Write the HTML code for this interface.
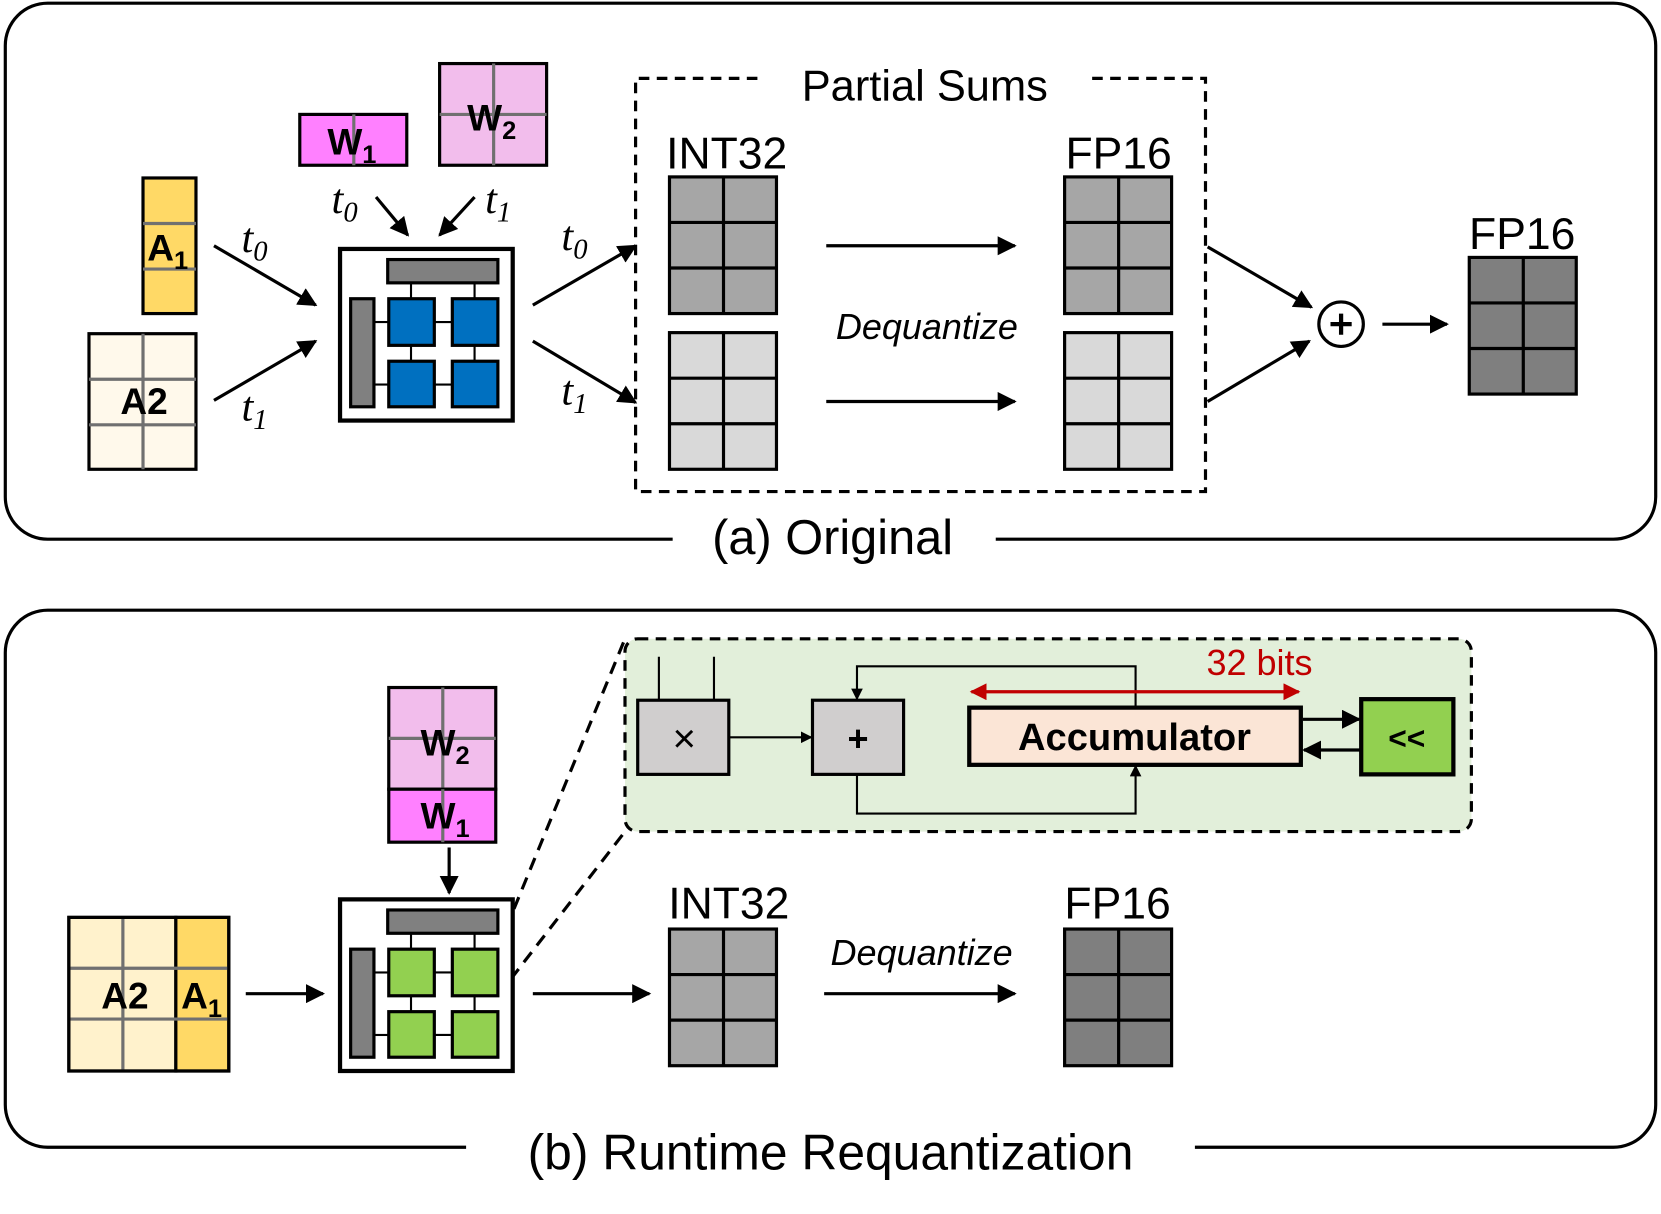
<!DOCTYPE html>
<html><head><meta charset="utf-8"><style>
html,body{margin:0;padding:0;background:#fff;}
svg{display:block;}
text{font-family:"Liberation Sans",sans-serif;}
.t{font-family:"Liberation Serif",serif;font-style:italic;font-size:40px;}
</style></head><body>
<svg width="1661" height="1214" viewBox="0 0 1568 1146" preserveAspectRatio="none" xmlns="http://www.w3.org/2000/svg">
<defs>
<marker id="a" viewBox="0 0 10 10" refX="9" refY="5" markerWidth="18" markerHeight="18" markerUnits="userSpaceOnUse" orient="auto"><path d="M0,0 L10,5 L0,10 z" fill="#000"/></marker>
<marker id="as" viewBox="0 0 10 10" refX="9" refY="5" markerWidth="11" markerHeight="11" markerUnits="userSpaceOnUse" orient="auto"><path d="M0,0 L10,5 L0,10 z" fill="#000"/></marker>
<marker id="ar" viewBox="0 0 10 10" refX="9" refY="5" markerWidth="16" markerHeight="16" markerUnits="userSpaceOnUse" orient="auto-start-reverse"><path d="M0,0 L10,5 L0,10 z" fill="#C00000"/></marker>
</defs>

<!-- frames -->
<path d="M635,509 H45 A40,40 0 0 1 5,469 V43 A40,40 0 0 1 45,3 H1523 A40,40 0 0 1 1563,43 V469 A40,40 0 0 1 1523,509 H940" fill="none" stroke="#000" stroke-width="3"/>
<text x="786" y="523" font-size="46" text-anchor="middle">(a) Original</text>
<path d="M440,1083 H45 A40,40 0 0 1 5,1043 V616 A40,40 0 0 1 45,576 H1523 A40,40 0 0 1 1563,616 V1043 A40,40 0 0 1 1523,1083 H1128" fill="none" stroke="#000" stroke-width="3"/>
<text x="784" y="1104" font-size="47" text-anchor="middle">(b) Runtime Requantization</text>

<!-- ===== TOP ===== -->
<rect x="135" y="168" width="50" height="128" fill="#FFD966" stroke="#000" stroke-width="3"/>
<line x1="135" y1="211" x2="185" y2="211" stroke="#707070" stroke-width="3"/>
<line x1="135" y1="254" x2="185" y2="254" stroke="#707070" stroke-width="3"/>
<text x="139" y="246" font-size="35" font-weight="bold">A<tspan font-size="24" dy="8">1</tspan></text>
<rect x="84" y="315" width="101" height="128" fill="#FFF9EB" stroke="#000" stroke-width="3"/>
<line x1="84" y1="358" x2="185" y2="358" stroke="#707070" stroke-width="3"/>
<line x1="84" y1="401" x2="185" y2="401" stroke="#707070" stroke-width="3"/>
<line x1="135" y1="315" x2="135" y2="443" stroke="#707070" stroke-width="3"/>
<text x="136" y="391" font-size="35" font-weight="bold" text-anchor="middle">A2</text>
<rect x="283" y="108" width="101" height="48" fill="#FF80FF" stroke="#000" stroke-width="3"/>
<line x1="334" y1="108" x2="334" y2="156" stroke="#707070" stroke-width="3"/>
<text x="309" y="146" font-size="35" font-weight="bold">W<tspan font-size="24" dy="8">1</tspan></text>
<rect x="415" y="60" width="101" height="96" fill="#F2BDEC" stroke="#000" stroke-width="3"/>
<line x1="466" y1="60" x2="466" y2="156" stroke="#707070" stroke-width="3"/>
<line x1="415" y1="108" x2="516" y2="108" stroke="#707070" stroke-width="3"/>
<text x="441" y="123" font-size="35" font-weight="bold">W<tspan font-size="24" dy="8">2</tspan></text>

<line x1="202" y1="232" x2="298" y2="288" stroke="#000" stroke-width="3" marker-end="url(#a)"/>
<line x1="202" y1="378" x2="298" y2="322" stroke="#000" stroke-width="3" marker-end="url(#a)"/>
<text class="t" x="228" y="238">t<tspan font-size="27" dy="8">0</tspan></text>
<text class="t" x="228" y="397">t<tspan font-size="27" dy="8">1</tspan></text>
<line x1="355" y1="186" x2="385" y2="222" stroke="#000" stroke-width="3" marker-end="url(#a)"/>
<line x1="448" y1="186" x2="415" y2="222" stroke="#000" stroke-width="3" marker-end="url(#a)"/>
<text class="t" x="313" y="201">t<tspan font-size="27" dy="8">0</tspan></text>
<text class="t" x="458" y="201">t<tspan font-size="27" dy="8">1</tspan></text>

<g id="pe">
<rect x="321" y="235" width="163" height="162" fill="#fff" stroke="#000" stroke-width="4"/>
<line x1="388" y1="266" x2="388" y2="282" stroke="#000" stroke-width="2"/>
<line x1="448" y1="266" x2="448" y2="282" stroke="#000" stroke-width="2"/>
<line x1="388" y1="326" x2="388" y2="341" stroke="#000" stroke-width="2"/>
<line x1="448" y1="326" x2="448" y2="341" stroke="#000" stroke-width="2"/>
<line x1="353" y1="304" x2="367" y2="304" stroke="#000" stroke-width="2"/>
<line x1="353" y1="363" x2="367" y2="363" stroke="#000" stroke-width="2"/>
<line x1="410" y1="304" x2="427" y2="304" stroke="#000" stroke-width="2"/>
<line x1="410" y1="363" x2="427" y2="363" stroke="#000" stroke-width="2"/>
<rect x="366" y="245" width="104" height="22" fill="#808080" stroke="#000" stroke-width="3"/>
<rect x="331" y="282" width="22" height="102" fill="#808080" stroke="#000" stroke-width="3"/>
</g>
<rect x="367" y="282" width="43" height="44" fill="#0070C0" stroke="#000" stroke-width="3"/>
<rect x="427" y="282" width="43" height="44" fill="#0070C0" stroke="#000" stroke-width="3"/>
<rect x="367" y="341" width="43" height="43" fill="#0070C0" stroke="#000" stroke-width="3"/>
<rect x="427" y="341" width="43" height="43" fill="#0070C0" stroke="#000" stroke-width="3"/>

<line x1="503" y1="288" x2="600" y2="232" stroke="#000" stroke-width="3" marker-end="url(#a)"/>
<line x1="503" y1="322" x2="600" y2="380" stroke="#000" stroke-width="3" marker-end="url(#a)"/>
<text class="t" x="530" y="236">t<tspan font-size="27" dy="8">0</tspan></text>
<text class="t" x="530" y="382">t<tspan font-size="27" dy="8">1</tspan></text>

<path d="M715,74 H600 V464 H1138 V74 H1030" fill="none" stroke="#000" stroke-width="3" stroke-dasharray="10,7"/>
<text x="873" y="95" font-size="41" text-anchor="middle">Partial Sums</text>
<text x="686" y="159" font-size="42" text-anchor="middle">INT32</text>
<text x="1056" y="159" font-size="42" text-anchor="middle">FP16</text>

<g stroke-width="3">
<rect x="632" y="167" width="101" height="129" fill="#A6A6A6" stroke="#000"/>
<path d="M683,167 V296 M632,210 H733 M632,253 H733" stroke="#000"/>
<rect x="632" y="314" width="101" height="129" fill="#D9D9D9" stroke="#000"/>
<path d="M683,314 V443 M632,357 H733 M632,400 H733" stroke="#000"/>
<rect x="1005" y="167" width="101" height="129" fill="#A6A6A6" stroke="#000"/>
<path d="M1056,167 V296 M1005,210 H1106 M1005,253 H1106" stroke="#000"/>
<rect x="1005" y="314" width="101" height="129" fill="#D9D9D9" stroke="#000"/>
<path d="M1056,314 V443 M1005,357 H1106 M1005,400 H1106" stroke="#000"/>
<rect x="1387" y="243" width="101" height="129" fill="#7F7F7F" stroke="#000"/>
<path d="M1438,243 V372 M1387,286 H1488 M1387,329 H1488" stroke="#000"/>
</g>
<line x1="780" y1="232" x2="958" y2="232" stroke="#000" stroke-width="3" marker-end="url(#a)"/>
<line x1="780" y1="379" x2="958" y2="379" stroke="#000" stroke-width="3" marker-end="url(#a)"/>
<text x="875" y="320" font-size="34" font-style="italic" text-anchor="middle">Dequantize</text>

<line x1="1140" y1="233" x2="1238" y2="290" stroke="#000" stroke-width="3" marker-end="url(#a)"/>
<line x1="1140" y1="379" x2="1236" y2="322" stroke="#000" stroke-width="3" marker-end="url(#a)"/>
<circle cx="1266" cy="306" r="21" fill="#fff" stroke="#000" stroke-width="3"/>
<path d="M1256,306 H1276 M1266,296 V316" stroke="#000" stroke-width="4"/>
<line x1="1305" y1="306" x2="1366" y2="306" stroke="#000" stroke-width="3" marker-end="url(#a)"/>
<text x="1437" y="235" font-size="42" text-anchor="middle">FP16</text>

<!-- ===== BOTTOM ===== -->
<rect x="590" y="603" width="799" height="182" rx="12" fill="#E2EFDA" stroke="#000" stroke-width="3" stroke-dasharray="10,7"/>
<line x1="470" y1="895" x2="590" y2="603" stroke="#000" stroke-width="3" stroke-dasharray="12,8"/>
<line x1="470" y1="940" x2="590" y2="785" stroke="#000" stroke-width="3" stroke-dasharray="12,8"/>

<path d="M622,620 V661 M674,620 V661" stroke="#000" stroke-width="2"/>
<rect x="602" y="661" width="86" height="70" fill="#D0CECE" stroke="#000" stroke-width="3"/>
<text x="646" y="710" font-size="38" text-anchor="middle">×</text>
<line x1="688" y1="696" x2="766" y2="696" stroke="#000" stroke-width="2" marker-end="url(#as)"/>
<rect x="767" y="661" width="86" height="70" fill="#D0CECE" stroke="#000" stroke-width="3"/>
<text x="810" y="709" font-size="34" font-weight="bold" text-anchor="middle">+</text>
<path d="M1072,668 V629 H809 V660" fill="none" stroke="#000" stroke-width="2" marker-end="url(#as)"/>
<path d="M809,731 V768 H1072 V723" fill="none" stroke="#000" stroke-width="2" marker-end="url(#as)"/>
<rect x="915" y="668" width="313" height="54" fill="#FBE5D6" stroke="#000" stroke-width="4"/>
<text x="1071" y="708" font-size="36" font-weight="bold" text-anchor="middle">Accumulator</text>
<line x1="917" y1="653" x2="1226" y2="653" stroke="#C00000" stroke-width="3" marker-start="url(#ar)" marker-end="url(#ar)"/>
<text x="1189" y="637" font-size="34" fill="#C00000" text-anchor="middle">32 bits</text>
<rect x="1285" y="660" width="87" height="71" fill="#92D050" stroke="#000" stroke-width="4"/>
<text x="1328" y="707" font-size="30" font-weight="bold" text-anchor="middle">&lt;&lt;</text>
<line x1="1230" y1="679" x2="1283" y2="679" stroke="#000" stroke-width="3" marker-end="url(#a)"/>
<line x1="1284" y1="708" x2="1231" y2="708" stroke="#000" stroke-width="3" marker-end="url(#a)"/>

<rect x="367" y="649" width="101" height="96" fill="#F2BDEC" stroke="#000" stroke-width="3"/>
<path d="M418,649 V745 M367,697 H468" stroke="#707070" stroke-width="3"/>
<text x="397" y="713" font-size="35" font-weight="bold">W<tspan font-size="24" dy="8">2</tspan></text>
<rect x="367" y="745" width="101" height="50" fill="#FF80FF" stroke="#000" stroke-width="3"/>
<line x1="418" y1="745" x2="418" y2="795" stroke="#707070" stroke-width="3"/>
<text x="397" y="782" font-size="35" font-weight="bold">W<tspan font-size="24" dy="8">1</tspan></text>
<line x1="424" y1="800" x2="424" y2="843" stroke="#000" stroke-width="3" marker-end="url(#a)"/>

<rect x="65" y="866" width="101" height="145" fill="#FFF2CC" stroke="#000" stroke-width="3"/>
<rect x="166" y="866" width="50" height="145" fill="#FFD966" stroke="#000" stroke-width="3"/>
<path d="M116,866 V1011 M65,914 H216 M65,962 H216" stroke="#707070" stroke-width="3"/>
<rect x="65" y="866" width="151" height="145" fill="none" stroke="#000" stroke-width="3"/>
<text x="118" y="952" font-size="35" font-weight="bold" text-anchor="middle">A2</text>
<text x="171" y="952" font-size="35" font-weight="bold">A<tspan font-size="24" dy="8">1</tspan></text>
<line x1="232" y1="938" x2="305" y2="938" stroke="#000" stroke-width="3" marker-end="url(#a)"/>

<use href="#pe" transform="translate(0,614)"/>
<rect x="367" y="896" width="43" height="44" fill="#92D050" stroke="#000" stroke-width="3"/>
<rect x="427" y="896" width="43" height="44" fill="#92D050" stroke="#000" stroke-width="3"/>
<rect x="367" y="955" width="43" height="43" fill="#92D050" stroke="#000" stroke-width="3"/>
<rect x="427" y="955" width="43" height="43" fill="#92D050" stroke="#000" stroke-width="3"/>

<line x1="503" y1="938" x2="613" y2="938" stroke="#000" stroke-width="3" marker-end="url(#a)"/>
<text x="688" y="867" font-size="42" text-anchor="middle">INT32</text>
<rect x="632" y="877" width="101" height="129" fill="#A6A6A6" stroke="#000" stroke-width="3"/>
<path d="M683,877 V1006 M632,920 H733 M632,963 H733" stroke="#000" stroke-width="3"/>
<line x1="778" y1="938" x2="958" y2="938" stroke="#000" stroke-width="3" marker-end="url(#a)"/>
<text x="870" y="911" font-size="34" font-style="italic" text-anchor="middle">Dequantize</text>
<text x="1055" y="867" font-size="42" text-anchor="middle">FP16</text>
<rect x="1005" y="877" width="101" height="129" fill="#7F7F7F" stroke="#000" stroke-width="3"/>
<path d="M1056,877 V1006 M1005,920 H1106 M1005,963 H1106" stroke="#000" stroke-width="3"/>
</svg>
</body></html>
